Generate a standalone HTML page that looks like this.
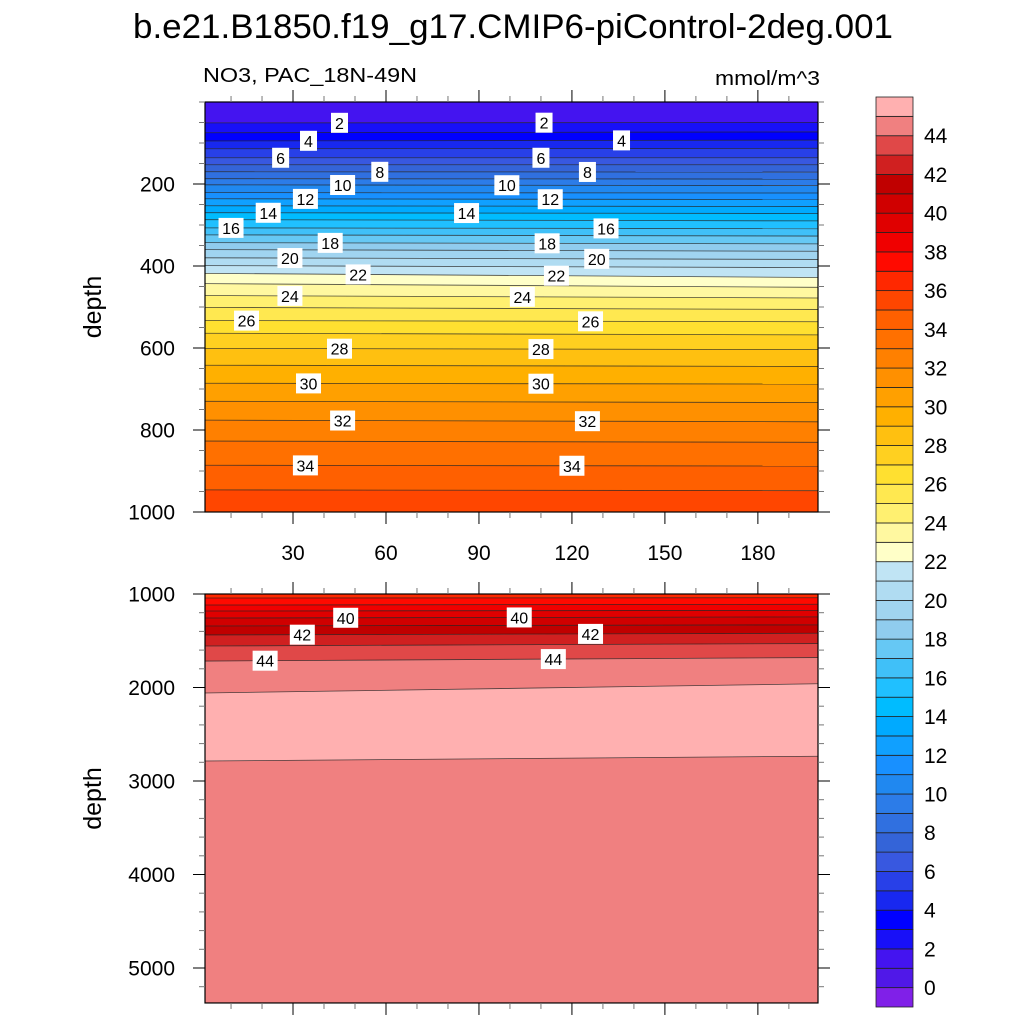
<!DOCTYPE html>
<html><head><meta charset="utf-8"><style>
html,body{margin:0;padding:0;background:#fff;}
svg{display:block;font-family:"Liberation Sans",sans-serif;}
</style></head><body>
<svg id="chart" width="1024" height="1024" viewBox="0 0 1024 1024">
<text x="133" y="38" font-size="34" textLength="760" lengthAdjust="spacingAndGlyphs">b.e21.B1850.f19_g17.CMIP6-piControl-2deg.001</text>
<text x="203" y="82" font-size="20" textLength="214" lengthAdjust="spacingAndGlyphs">NO3, PAC_18N-49N</text>
<text x="715" y="85" font-size="20" textLength="105" lengthAdjust="spacingAndGlyphs">mmol/m^3</text>
<g id="topPanel"></g>
<g id="botPanel"></g>
<g id="cbar"></g>
</svg>
<script>
// ---- data ----
const bandColors = ["#8020e8","#5018e8","#4414f0","#1810f8","#0000ff","#1828f0","#2840e8","#3858e0","#3464d8","#3070e0","#2c7ce8","#2088f0","#1890ff","#10a0ff","#00aaff","#00bcff","#20c0ff","#40c0f8","#66c8f4","#90ccee","#a0d4f0","#b0dcf2","#c0e4f4","#ffffc8","#fff8a0","#fff070","#ffe850","#ffe030","#ffd020","#ffc010","#ffb000","#ffa000","#ff9000","#ff8000","#ff7000","#ff6000","#ff4600","#ff2800","#ff0a00","#f00000","#e00000","#d00000","#c00000","#d02020","#e04848","#f08080","#ffb0b0"];
const topStartValue = 1.5;
const topLevels = [2,3,4,5,6,7,8,9,10,11,12,13,14,15,16,17,18,19,20,21,22,23,24,25,26,27,28,29,30,31,32,33,34,35,36];
const topDepthLeft = [51,75,95,114,136,153,170,187,202,221,236,253,270,287,307,324,343,360,380,399,418,443,472,501,533,564,601,642,686,730,776,827,886,946,1005];
const topDepthRight = [50,73,93,113,136,153,171,188,204,222,238,255,272,290,309,327,346,364,384,404,428,452,478,506,536,568,604,645,688,733,780,830,888,948,1006];
const botStartValue = 36.5;
const botLevels = [37,38,39,40,41,42,43,44,45,45];
const botValuesBelow = [37.5,38.5,39.5,40.5,41.5,42.5,43.5,44.5,45.5,44.5];
const botDepthLeft = [1043,1118,1182,1257,1342,1438,1556,1717,2059,2786];
const botDepthRight = [1040,1110,1175,1245,1330,1420,1530,1680,1960,2735];
const xTicks = [30,60,90,120,150,180];
const topYTicks = [200,400,600,800,1000];
const botYTicks = [1000,2000,3000,4000,5000];
const cbarLabels = [0,2,4,6,8,10,12,14,16,18,20,22,24,26,28,30,32,34,36,38,40,42,44];
const topLabels = [[45,2],[111,2],[35,4],[136,4],[26,6],[110,6],[58,8],[125,8],[46,10],[99,10],[34,12],[113,12],[22,14],[86,14],[10,16],[131,16],[42,18],[112,18],[29,20],[128,20],[51,22],[115,22],[29,24],[104,24],[15,26],[126,26],[45,28],[110,28],[35,30],[110,30],[46,32],[125,32],[34,34],[120,34]];
const botLabels = [[47,40],[103,40],[33,42],[126,42],[21,44],[114,44]];

// ---- scales ----
const NS="http://www.w3.org/2000/svg";
const X0=205, X1=818, XV0=1.6, XV1=199.4;
const xs = v => X0 + (v-XV0)/(XV1-XV0)*(X1-X0);
const topY = d => 102 + d*0.41;
const botY = d => 594 + (d-1000)*0.0935;
function mk(tag, attrs, parent){const e=document.createElementNS(NS,tag);for(const k in attrs)e.setAttribute(k,attrs[k]);parent.appendChild(e);return e;}
function bandIdx(v){return Math.max(0,Math.min(46,Math.floor(v)+1));}

function panel(g, yfun, dTop, dBot, startV, levels, dL, dR, valsBelow, yTicks, minorStep, labels, name){
  const yT=yfun(dTop), yB=yfun(dBot);
  const clip = mk('clipPath',{id:'clip-'+name},g);
  mk('rect',{x:X0,y:yT,width:X1-X0,height:yB-yT},clip);
  const body = mk('g',{'clip-path':'url(#clip-'+name+')'},g);
  
  
  const yl=i=>yfun(dL[i]), yr=i=>yfun(dR[i]);
  let prevL=yT, prevR=yT, v=startV;
  for(let i=0;i<=levels.length;i++){
    const nL = i<levels.length? yl(i) : yB+2, nR = i<levels.length? yr(i) : yB+2;
    const p = mk('polygon',{points:`${X0-2},${prevL} ${X1+2},${prevR} ${X1+2},${nR} ${X0-2},${nL}`,fill:bandColors[bandIdx(v)]},body);
    
    
    if(i<levels.length){ v = valsBelow? valsBelow[i] : levels[i]+0.5; prevL=nL; prevR=nR; }
  }
  for(let i=0;i<levels.length;i++){
    const l=mk('line',{x1:X0,y1:yl(i),x2:X1,y2:yr(i),stroke:'#222','stroke-width':0.8,'stroke-opacity':0.8},body);
    
    
  }
  labels.forEach(([xv,lev])=>{
    const i=levels.indexOf(lev); if(i<0)return;
    const t=(xv-XV0)/(XV1-XV0);
    const cx=xs(xv), cy=yl(i)+(yr(i)-yl(i))*t;
    const w = lev>=10?25:17;
    const r=mk('rect',{x:cx-w/2,y:cy-10,width:w,height:20,fill:'#fff'},g);
    
    
    const tx=mk('text',{x:cx,y:cy+6,'font-size':16,'text-anchor':'middle'},g);
    tx.textContent=lev;
    
    
  });
  const fr=mk('rect',{x:X0,y:yT,width:X1-X0,height:yB-yT,fill:'none',stroke:'#000','stroke-width':1.2},g);
  
  
  for(let xv=10; xv<=XV1; xv+=10){
    const maj = xTicks.includes(xv), L=maj?12:6, x=xs(xv);
    mk('line',{x1:x,y1:yT,x2:x,y2:yT-L,stroke:maj?'#000':'#777','stroke-width':1},g);
    mk('line',{x1:x,y1:yB,x2:x,y2:yB+L,stroke:maj?'#000':'#777','stroke-width':1},g);
  }
  for(let d=Math.ceil(dTop/minorStep)*minorStep; d<=dBot; d+=minorStep){
    const maj=yTicks.includes(d), L=maj?12:6, y=yfun(d);
    mk('line',{x1:X0,y1:y,x2:X0-L,y2:y,stroke:maj?'#000':'#777','stroke-width':1},g);
    mk('line',{x1:X1,y1:y,x2:X1+L,y2:y,stroke:maj?'#000':'#777','stroke-width':1},g);
  }
  yTicks.forEach(d=>{
    const t=mk('text',{x:175,y:yfun(d)+7.5,'font-size':21,'text-anchor':'end'},g);
    t.textContent=d;
    
    
  });
  const yc=(yT+yB)/2;
  const at=mk('text',{x:101,y:yc,'font-size':25,'text-anchor':'middle',transform:`rotate(-90 101 ${yc})`},g);
  at.textContent='depth';
  
  
}
const topG=document.getElementById('topPanel'), botG=document.getElementById('botPanel');
panel(topG, topY, 0, 1000, topStartValue, topLevels, topDepthLeft, topDepthRight, null, topYTicks, 50, topLabels, 'upper');
panel(botG, botY, 1000, 5374, botStartValue, botLevels, botDepthLeft, botDepthRight, botValuesBelow, botYTicks, 200, botLabels, 'lower');
xTicks.forEach(v=>{
  const t=mk('text',{x:xs(v),y:560,'font-size':21,'text-anchor':'middle'},topG);
  t.textContent=v;
  
  
});
const cb=document.getElementById('cbar');
const CT=97, CB=1007, CH=(CB-CT)/bandColors.length;
bandColors.forEach((c,i)=>{
  const y=CB-(i+1)*CH;
  const r=mk('rect',{x:876,y:y,width:37,height:CH,fill:c,stroke:'#222','stroke-width':0.8},cb);
  
  
});
cbarLabels.forEach(v=>{
  const y=CB-(v+1)*CH;
  const t=mk('text',{x:924,y:y+7.5,'font-size':21},cb);
  t.textContent=v;
  
  
});
</script>
</body></html>
